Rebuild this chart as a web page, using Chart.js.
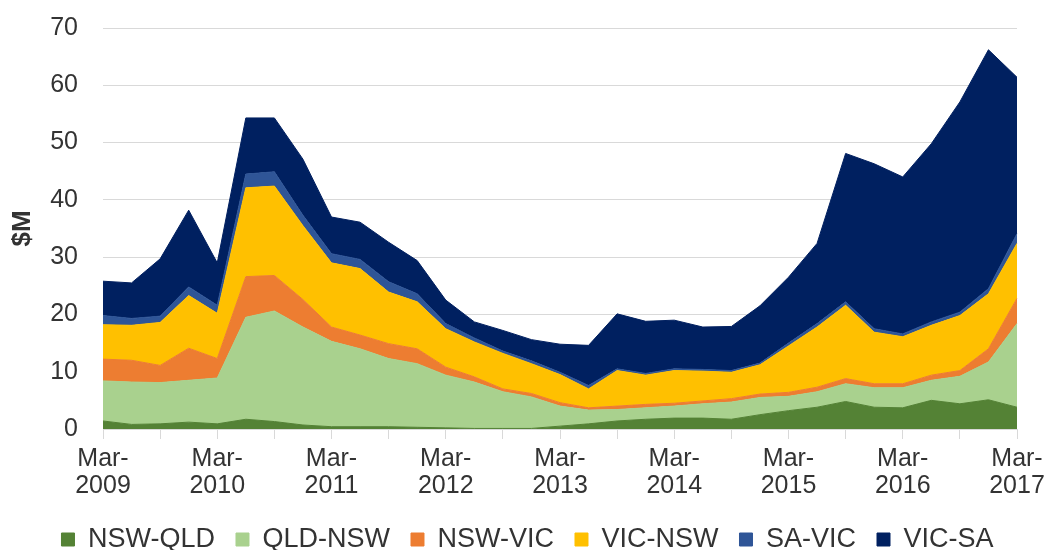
<!DOCTYPE html>
<html>
<head>
<meta charset="utf-8">
<script src="https://cdn.jsdelivr.net/npm/chart.js@4.4.1/dist/chart.umd.min.js"></script>
<style>
  html, body { margin: 0; padding: 0; background: #fff; overflow: hidden; }
  #wrap { position: relative; width: 1048px; height: 563px; }
</style>
</head>
<body>
<div id="wrap"><canvas id="areaChart"></canvas></div>
<script>
// quarters Mar-2009 .. Mar-2017
const quarters = [
  'Mar-2009', 'Jun-2009', 'Sep-2009', 'Dec-2009',
  'Mar-2010', 'Jun-2010', 'Sep-2010', 'Dec-2010',
  'Mar-2011', 'Jun-2011', 'Sep-2011', 'Dec-2011',
  'Mar-2012', 'Jun-2012', 'Sep-2012', 'Dec-2012',
  'Mar-2013', 'Jun-2013', 'Sep-2013', 'Dec-2013',
  'Mar-2014', 'Jun-2014', 'Sep-2014', 'Dec-2014',
  'Mar-2015', 'Jun-2015', 'Sep-2015', 'Dec-2015',
  'Mar-2016', 'Jun-2016', 'Sep-2016', 'Dec-2016',
  'Mar-2017'
];

// $M per quarter, by interconnector direction
const nswQld = [1.4, 0.8, 0.9, 1.2, 0.9, 1.7, 1.3, 0.7, 0.4, 0.4, 0.4, 0.3, 0.2, 0.1, 0.1, 0.1, 0.5, 0.9, 1.4, 1.7, 1.9, 1.9, 1.7, 2.5, 3.2, 3.8, 4.8, 3.8, 3.7, 5.0, 4.4, 5.1, 3.8];
const qldNsw = [7.0, 7.4, 7.2, 7.3, 8.0, 17.8, 19.3, 17.1, 14.9, 13.6, 11.9, 11.1, 9.2, 8.1, 6.4, 5.5, 3.5, 2.4, 2.0, 2.0, 2.1, 2.5, 3.0, 3.0, 2.5, 2.7, 3.1, 3.4, 3.5, 3.5, 4.8, 6.6, 14.6];
const nswVic = [3.8, 3.8, 3.0, 5.6, 3.4, 7.1, 6.2, 4.8, 2.5, 2.4, 2.6, 2.6, 1.4, 0.9, 0.5, 0.6, 0.6, 0.4, 0.6, 0.6, 0.5, 0.5, 0.6, 0.6, 0.7, 0.8, 0.9, 0.7, 0.7, 0.9, 1.0, 2.3, 4.4];
const vicNsw = [6.0, 6.1, 7.5, 9.2, 7.9, 15.5, 15.6, 12.9, 11.2, 11.6, 9.0, 8.2, 6.7, 6.1, 6.2, 5.2, 4.9, 3.3, 6.2, 5.1, 5.7, 5.2, 4.6, 5.1, 8.1, 10.5, 12.8, 9.0, 8.2, 8.7, 9.6, 9.6, 9.6];
const saVic = [1.6, 1.2, 1.1, 1.5, 1.4, 2.4, 2.5, 1.8, 1.6, 1.6, 1.8, 1.4, 0.9, 0.7, 0.4, 0.5, 0.4, 0.6, 0.3, 0.3, 0.3, 0.3, 0.3, 0.3, 0.5, 0.6, 0.6, 0.6, 0.5, 0.6, 0.6, 0.9, 1.7];
const vicSa = [6.0, 6.2, 10.0, 13.4, 7.4, 9.8, 9.4, 9.8, 6.4, 6.5, 6.9, 5.8, 4.1, 2.8, 3.6, 3.7, 4.9, 7.0, 9.6, 9.1, 8.5, 7.4, 7.7, 10.0, 11.5, 14.0, 25.9, 28.8, 27.4, 31.1, 36.7, 41.7, 27.3];

const seriesNames = ['NSW-QLD', 'QLD-NSW', 'NSW-VIC', 'VIC-NSW', 'SA-VIC', 'VIC-SA'];
const seriesValues = [nswQld, qldNsw, nswVic, vicNsw, saVic, vicSa];
const seriesColors = ['#548235', '#A9D18E', '#ED7D31', '#FFC000', '#2F5597', '#002060'];

const yTicks = [0, 10, 20, 30, 40, 50, 60, 70];

const fontFamily = '"Liberation Sans", Arial, sans-serif';
const textColor = '#333333';
const gridColor = '#d9d9d9';

// nudge the legend a bit to the right, like the original
const legendShift = {
    id: 'legendShift',
    afterLayout(chart) {
        chart.legend.left += 18;
        chart.legend.right += 18;
    }
};

document.addEventListener('DOMContentLoaded', function() {
    drawChart();
});

function drawChart() {
    const ctx = document.getElementById('areaChart').getContext('2d');

    const datasets = seriesNames.map((name, i) => ({
        label: name,
        data: seriesValues[i],
        backgroundColor: seriesColors[i],
        borderColor: seriesColors[i],
        borderWidth: 1,
        pointRadius: 0,
        tension: 0,
        fill: i === 0 ? 'origin' : '-1'
    }));

    new Chart(ctx, {
        type: 'line',
        data: { labels: quarters, datasets: datasets },
        plugins: [legendShift],
        options: {
            responsive: true,
            maintainAspectRatio: false,
            animation: false,
            layout: { padding: { top: 28, right: 29, left: 0, bottom: 0 } },
            plugins: {
                tooltip: { enabled: false },
                legend: {
                    position: 'bottom',
                    labels: {
                        boxWidth: 13,
                        boxHeight: 13,
                        padding: 21,
                        color: textColor,
                        font: { family: fontFamily, size: 27 }
                    }
                }
            },
            scales: {
                x: {
                    offset: false,
                    afterFit: axis => {
                        axis.height = 76;
                        axis.paddingRight = 31;
                    },
                    grid: {
                        drawOnChartArea: false,
                        drawTicks: true,
                        tickLength: 10,
                        // tick mark every half year
                        color: c => (c.index % 2 === 0 ? gridColor : 'rgba(0,0,0,0)')
                    },
                    border: { display: true, color: gridColor },
                    ticks: {
                        autoSkip: false,
                        maxRotation: 0,
                        padding: 7,
                        color: textColor,
                        font: { family: fontFamily, size: 25, lineHeight: 1.08 },
                        callback: function(value, index) {
                            if (index % 4 !== 0) return '';
                            const parts = quarters[index].split('-');
                            return [parts[0] + '-', parts[1]];
                        }
                    }
                },
                y: {
                    stacked: true,
                    min: 0,
                    max: 70,
                    afterBuildTicks: axis => { axis.ticks = yTicks.map(v => ({ value: v })); },
                    afterFit: axis => { axis.width = 103; },
                    grid: {
                        color: gridColor,
                        drawTicks: true,
                        tickLength: 25,
                        tickColor: 'rgba(0,0,0,0)'
                    },
                    border: { display: false },
                    ticks: {
                        padding: 0,
                        color: textColor,
                        font: { family: fontFamily, size: 25 }
                    },
                    title: {
                        display: true,
                        text: '$M',
                        color: textColor,
                        padding: { top: 7, bottom: 0 },
                        font: { family: fontFamily, size: 26, weight: 'bold' }
                    }
                }
            }
        }
    });
}
</script>
</body>
</html>
